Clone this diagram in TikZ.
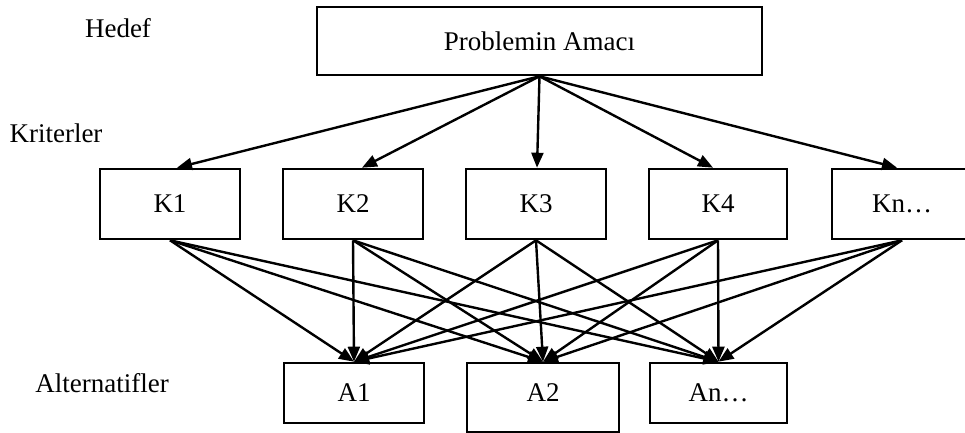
\documentclass[tikz,border=0pt]{standalone}
\usepackage{fontspec}
\setmainfont{Liberation Serif}
\usetikzlibrary{arrows.meta,calc}
\begin{document}
\begin{tikzpicture}[x=1pt,y=-1pt,
  every node/.style={font=\fontsize{27}{31}\selectfont},
  box/.style={draw,line width=2.6pt,rectangle,inner sep=0pt},
  kbox/.style={box,minimum width=140pt,minimum height=70pt},
  abox/.style={box,minimum height=60pt},
  lab/.style={inner sep=0pt},
  conn/.style={line width=2.4pt,-{Triangle[length=15pt,width=12pt]}}]
\useasboundingbox (0,0) rectangle (965,433);
% labels
\node[lab] (hedef) at (118,28) {Hedef};
\node[lab] (krit) at (56,133) {Kriterler};
\node[lab] (alt) at (102,383) {Alternatifler};
% goal
\node[box,minimum width=445pt,minimum height=68pt] (G) at (539.5,41) {Problemin Amacı};
% criteria
\node[kbox] (K1) at (170,204) {K1};
\node[kbox] (K2) at (353,204) {K2};
\node[kbox] (K3) at (536,204) {K3};
\node[kbox,minimum width=138pt] (K4) at (718,204) {K4};
\node[kbox] (Kn) at (902,204) {Kn…};
% alternatives
\node[abox,minimum width=140pt] (A1) at (354,393) {A1};
\node[box,minimum width=152pt,minimum height=69pt,text height=18pt,text depth=9.5pt] (A2) at (543,397.5) {A2};
\node[abox,minimum width=137pt] (An) at (718.5,393) {An…};
% goal to criteria
\draw[conn] (G.south) -- ($(K1.north)+(7,0)$);
\draw[conn] (G.south) -- ($(K2.north)+(9,0)$);
\draw[conn] (G.south) -- ($(K3.north)+(1,0)$);
\draw[conn] (G.south) -- ($(K4.north)+(-5,0)$);
\draw[conn] (G.south) -- ($(Kn.north)+(-5,0)$);
% criteria to alternatives
\foreach \k in {K1,K2,K3,K4,Kn}{
  \foreach \a in {A1,A2,An}{
    \draw[conn] (\k.south) -- (\a.north);
  }
}
\end{tikzpicture}
\end{document}
